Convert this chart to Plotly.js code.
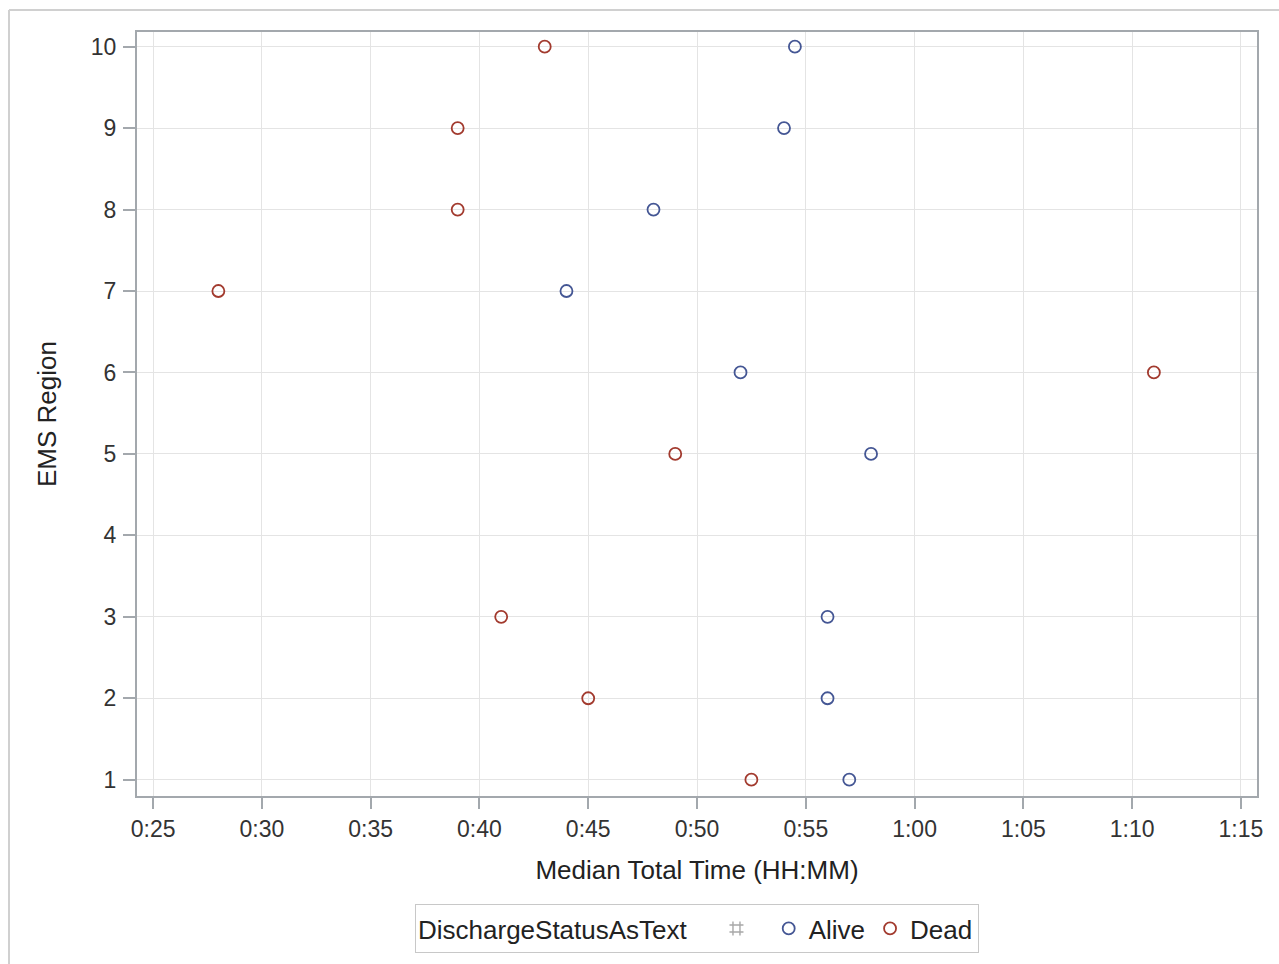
<!DOCTYPE html>
<html>
<head>
<meta charset="utf-8">
<script src="https://cdn.plot.ly/plotly-3.0.1.min.js"></script>
<style>
html,body{margin:0;padding:0;background:#fff;}
#chart{width:1279px;height:964px;}
</style>
</head>
<body>
<div id="chart"></div>
<script>
const regions = [10, 9, 8, 7, 6, 5, 3, 2, 1];
const aliveMinutes = [54.5, 54, 48, 44, 52, 58, 56, 56, 57];
const deadMinutes = [43, 39, 39, 28, 71, 49, 41, 45, 52.5];
const xTickVals = [25, 30, 35, 40, 45, 50, 55, 60, 65, 70, 75];
const xTickText = ["0:25", "0:30", "0:35", "0:40", "0:45", "0:50", "0:55", "1:00", "1:05", "1:10", "1:15"];
const yTickVals = [1, 2, 3, 4, 5, 6, 7, 8, 9, 10];

const FONT = "Liberation Sans, Arial, sans-serif";

const traces = [
  {
    x: [null], y: [null], type: "scatter", mode: "markers", name: " ",
    marker: {symbol: "hash-open", size: 14, color: "#a8a8a8", line: {width: 1.4, color: "#a8a8a8"}},
    hoverinfo: "skip", showlegend: true
  },
  {
    x: aliveMinutes, y: regions, type: "scatter", mode: "markers", name: "Alive",
    marker: {symbol: "circle-open", size: 12, color: "#445694", line: {width: 1.8, color: "#445694"}}
  },
  {
    x: deadMinutes, y: regions, type: "scatter", mode: "markers", name: "Dead",
    marker: {symbol: "circle-open", size: 12, color: "#a23a2e", line: {width: 1.8, color: "#a23a2e"}}
  }
];

const layout = {
  width: 1279, height: 964,
  margin: {l: 137, r: 22, t: 32, b: 168, autoexpand: false},
  paper_bgcolor: "#fff", plot_bgcolor: "#fff",
  font: {family: FONT, color: "#222", size: 23},
  showlegend: true,
  xaxis: {
    range: [24.26, 75.74],
    tickvals: xTickVals, ticktext: xTickText,
    showgrid: true, gridcolor: "#e4e4e4", gridwidth: 1,
    zeroline: false,
    showline: true, linecolor: "#a3a8ad", linewidth: 2, mirror: true,
    ticks: "outside", ticklen: 11, tickcolor: "#a3a8ad", tickwidth: 2,
    ticklabelstandoff: 0,
    tickfont: {size: 23, color: "#333"},
    automargin: false,
    title: {text: "Median Total Time (HH:MM)", font: {size: 26, color: "#222"}, standoff: 20}
  },
  yaxis: {
    range: [0.8, 10.18],
    tickvals: yTickVals,
    showgrid: true, gridcolor: "#e4e4e4", gridwidth: 1,
    zeroline: false,
    showline: true, linecolor: "#a3a8ad", linewidth: 2, mirror: true,
    ticks: "outside", ticklen: 12, tickcolor: "#a3a8ad", tickwidth: 2,
    ticklabelstandoff: 2,
    tickfont: {size: 23, color: "#333"},
    automargin: false,
    title: {text: "EMS Region", font: {size: 26, color: "#222"}, standoff: 27}
  },
  legend: {
    orientation: "h",
    x: 0.5, xanchor: "center",
    y: -0.1414, yanchor: "top",
    bordercolor: "#c8c8c8", borderwidth: 1,
    bgcolor: "#fff",
    font: {size: 26, color: "#222"},
    title: {text: "DischargeStatusAsText   ", side: "left", font: {size: 26, color: "#222"}},
    itemwidth: 30, tracegroupgap: 0
  },
  shapes: [
    {type: "line", xref: "paper", yref: "paper",
     x0: (9 - 137) / 1120, x1: (1290 - 137) / 1120,
     y0: (796 - 10) / 764, y1: (796 - 10) / 764,
     line: {color: "#d0d0d0", width: 2}},
    {type: "line", xref: "paper", yref: "paper",
     x0: (9 - 137) / 1120, x1: (9 - 137) / 1120,
     y0: (796 - 10) / 764, y1: (796 - 980) / 764,
     line: {color: "#d0d0d0", width: 2}}
  ]
};

Plotly.newPlot("chart", traces, layout, {displayModeBar: false, staticPlot: true});
</script>
</body>
</html>
